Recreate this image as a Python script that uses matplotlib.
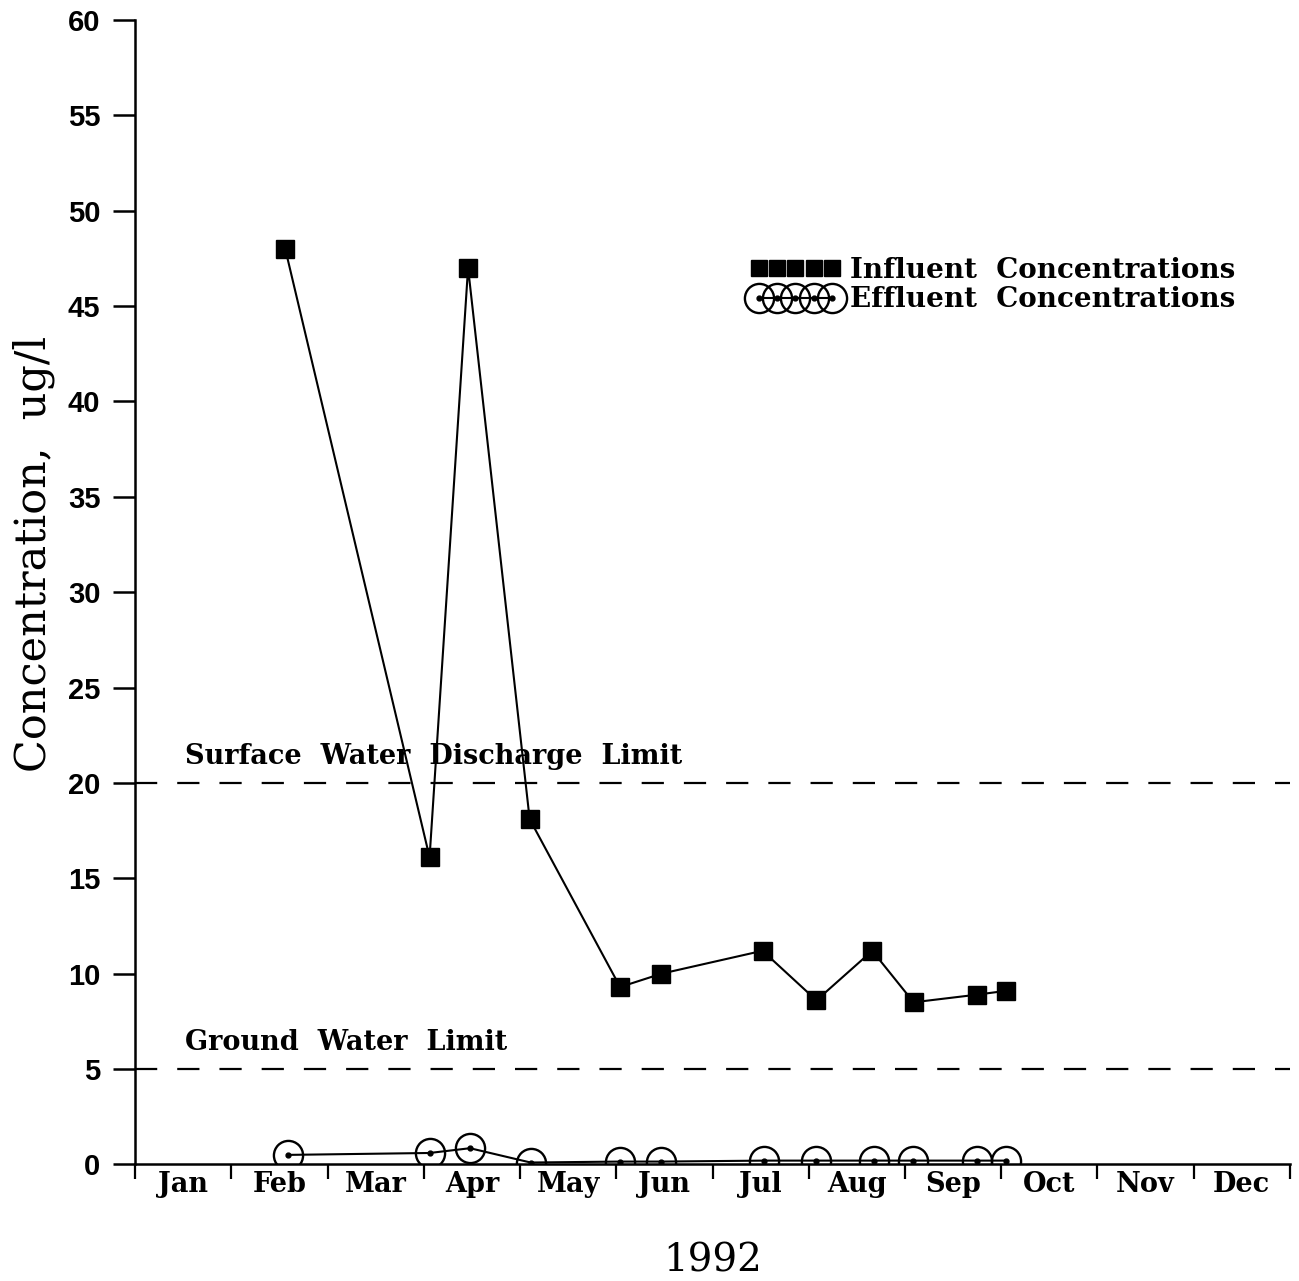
import matplotlib
matplotlib.use("Agg")
import matplotlib.pyplot as plt
from matplotlib.lines import Line2D
from matplotlib.legend_handler import HandlerTuple

# Sampling dates expressed in months from Jan 1, 1992
influent_month = [1.56, 3.06, 3.46, 4.10, 5.04, 5.47, 6.52, 7.08, 7.66, 8.09, 8.75, 9.05]
influent_conc = [48.0, 16.1, 47.0, 18.1, 9.3, 10.0, 11.2, 8.6, 11.2, 8.5, 8.9, 9.1]

effluent_month = [1.59, 3.06, 3.48, 4.11, 5.04, 5.47, 6.54, 7.08, 7.68, 8.08, 8.75, 9.05]
effluent_conc = [0.5, 0.6, 0.85, 0.1, 0.15, 0.15, 0.2, 0.2, 0.2, 0.2, 0.2, 0.2]

months = ["Jan", "Feb", "Mar", "Apr", "May", "Jun",
          "Jul", "Aug", "Sep", "Oct", "Nov", "Dec"]

surface_limit = 20
ground_limit = 5

serif = ["DejaVu Serif"]
sans = ["Liberation Sans", "DejaVu Sans"]

fig = plt.figure(figsize=(12.99, 12.81), dpi=100)
ax = fig.add_axes([0.104, 0.091, 0.889, 0.8935])

ax.set_xlim(0, 12)
ax.set_ylim(0, 60)

# Discharge limits
ax.axhline(surface_limit, color="black", lw=1.6, dashes=(10, 9), zorder=1)
ax.axhline(ground_limit, color="black", lw=1.6, dashes=(10, 9), zorder=1)
ax.text(0.52, surface_limit + 0.7, "Surface  Water  Discharge  Limit",
        family=serif, fontweight="bold", fontsize=19.5, ha="left", va="bottom")
ax.text(0.52, ground_limit + 0.7, "Ground  Water  Limit",
        family=serif, fontweight="bold", fontsize=19.5, ha="left", va="bottom")

# Influent series
ax.plot(influent_month, influent_conc, color="black", lw=1.5,
        marker="s", markersize=12.5, markerfacecolor="black",
        markeredgecolor="black", zorder=3)

# Effluent series: open circles with a centre dot
ring_style = dict(linestyle="none", marker="o", markersize=21,
                  markerfacecolor="none", markeredgecolor="black",
                  markeredgewidth=1.7)
dot_style = dict(color="black", lw=1.5, marker="o", markersize=3.5,
                 markerfacecolor="black", markeredgecolor="black")
ax.plot(effluent_month, effluent_conc, zorder=3, **ring_style)
ax.plot(effluent_month, effluent_conc, zorder=3, **dot_style)

# Legend keys: a row of squares and a chain of ringed dots
inf_key = Line2D([], [], linestyle="none", marker="s", markersize=11.5,
                 markerfacecolor="black", markeredgecolor="black")
eff_keys = (Line2D([], [], **ring_style), Line2D([], [], **dot_style))

leg = ax.legend([inf_key, eff_keys],
                ["Influent  Concentrations", "Effluent  Concentrations"],
                handler_map={tuple: HandlerTuple(ndivide=1)},
                numpoints=5, handlelength=3.26, handletextpad=0.35,
                labelspacing=0.1, frameon=False,
                loc="upper left", bbox_to_anchor=(0.511, 0.815),
                prop={"family": serif, "weight": "bold", "size": 20})

# Axes styling
for side in ("top", "right"):
    ax.spines[side].set_visible(False)
for side in ("left", "bottom"):
    ax.spines[side].set_linewidth(1.8)

ax.set_yticks(range(0, 61, 5))
ax.tick_params(axis="y", direction="out", length=16, width=1.8, pad=9)
for lbl in ax.get_yticklabels():
    lbl.set_family(sans)
    lbl.set_fontweight("bold")
    lbl.set_fontsize(21)

# Month boundaries as major ticks, month names centred as minor ticks
ax.set_xticks(range(0, 13))
ax.set_xticklabels([])
ax.tick_params(axis="x", which="major", direction="out", length=11, width=1.6)
ax.set_xticks([m + 0.5 for m in range(12)], minor=True)
ax.set_xticklabels(months, minor=True)
ax.tick_params(axis="x", which="minor", length=0, pad=5)
for lbl in ax.get_xticklabels(minor=True):
    lbl.set_family(serif)
    lbl.set_fontweight("bold")
    lbl.set_fontsize(19.5)

ax.set_ylabel("Concentration,  ug/l", family=serif, fontsize=31)
ax.yaxis.set_label_coords(-0.0695, 0.533)
ax.set_xlabel("1992", family=serif, fontsize=28, labelpad=32)

fig.savefig("out.png", dpi=100, facecolor="white")
